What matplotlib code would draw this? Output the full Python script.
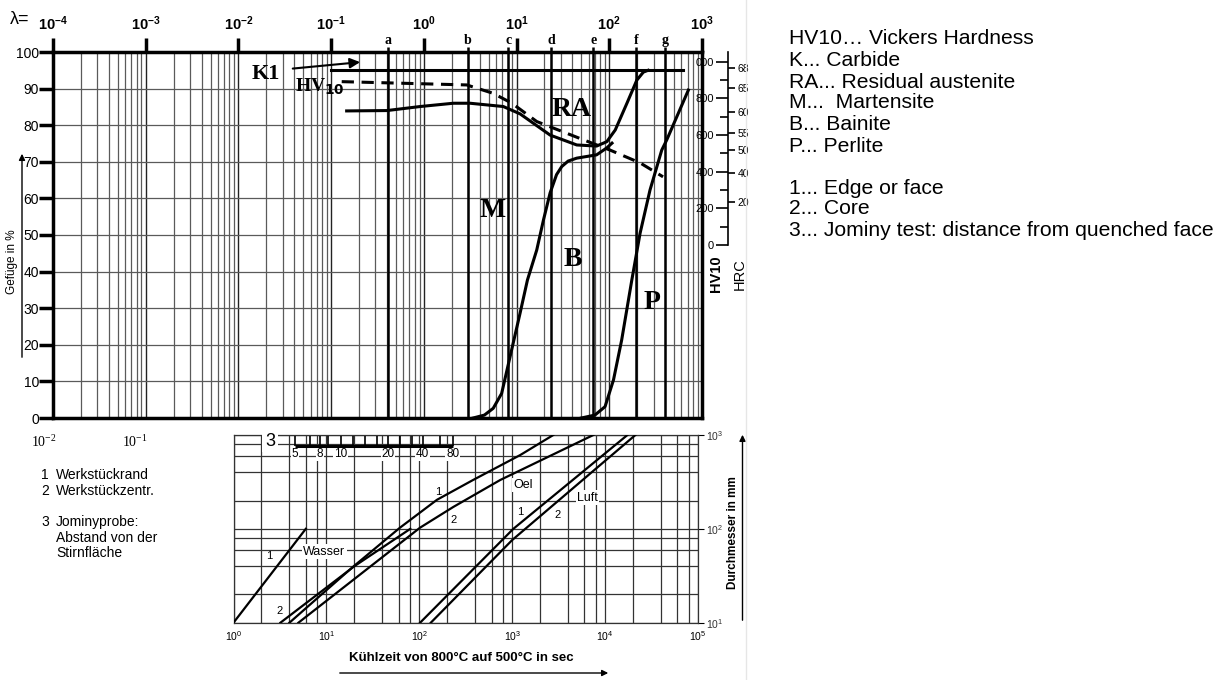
import matplotlib
matplotlib.use('Agg')
import matplotlib.pyplot as plt
from matplotlib.ticker import FixedLocator, NullLocator
from matplotlib.lines import Line2D
from matplotlib.patches import FancyArrowPatch

plt.rcParams['font.family'] = ['Liberation Sans', 'DejaVu Sans']

# ---------------- data: upper chart (lambda, structure %) ----------------
lam_decades = [1e-4, 1e-3, 1e-2, 1e-1, 1e0, 1e1, 1e2, 1e3]
lam_labels = ['-4', '-3', '-2', '-1', '0', '1', '2', '3']
pct_ticks = [0, 10, 20, 30, 40, 50, 60, 70, 80, 90, 100]
letters = ['a', 'b', 'c', 'd', 'e', 'f', 'g']
letter_lam = [0.41, 3.0, 8.1, 23.6, 67, 195, 400]

k1_lam = [0.1, 620]
k1_pct = [95, 95]
hv_lam = [0.13, 2.9, 5.6, 8.9, 16.5, 48, 102, 215, 380]
hv_pct = [91.9, 91.0, 88.7, 86.0, 81.0, 76.4, 73.2, 69.7, 65.9]
ra_lam = [0.147, 0.40, 0.91, 2.08, 3.15, 7.2, 10.9, 23, 44.6, 73, 94, 116, 155, 198, 233, 262]
ra_pct = [83.9, 84.0, 85.1, 86.0, 86.0, 85.1, 83.1, 77.3, 74.6, 74.3, 75.5, 78.7, 86.0, 92.3, 94.5, 95]
b_lam = [3.4, 4.5, 5.6, 6.9, 8.5, 10.9, 13.1, 16.5, 19.5, 23, 27, 30.7, 36, 44.6, 73, 94, 107]
b_pct = [0, 0.8, 2.65, 6.7, 16.7, 28.6, 37.7, 45.9, 54.1, 61.5, 66.5, 68.7, 70.2, 71.0, 71.9, 73.8, 75.1]
p_lam = [50, 70, 90, 111, 136, 175, 215, 275, 368, 417, 713]
p_pct = [0, 0.8, 3.1, 10.4, 21.3, 37.7, 50.5, 62.3, 73.2, 76.0, 89.6]

# hardness scales (HV10 values, HRC values with their HV equivalents)
hv_ticks = [0, 200, 400, 600, 800, 1000]
hv_labels = ['0', '200', '400', '600', '800', '000']
hrc_labels = [68, 65, 60, 55, 50, 40, 20]
hrc_hv = [966, 857, 726, 611, 519, 393, 235]

# ---------------- data: lower chart (cooling time s, diameter mm) ----------------
w1_t = [1, 6]
w1_d = [10, 100]
w2_t = [3.2, 20, 80]
w2_d = [10, 40, 100]
o1_t = [4.0, 19.4, 62, 155, 380, 1222, 2770]
o1_d = [10, 39.5, 103, 204, 332, 612, 1000]
o2_t = [5.0, 102, 232, 745, 7480]
o2_d = [10, 103, 171, 332, 1000]
l1_t = [102, 1028, 17400]
l1_d = [10, 100, 1000]
l2_t = [133, 1000, 21200]
l2_d = [10, 76, 1000]
jom_mm = ['5', '8', '10', '20', '40', '80']
jom_t = [4.6, 8.5, 14.3, 46, 108, 229]
jom_tick_t = [4.6, 6.7, 8.55, 10.4, 14.4, 19.4, 26, 35, 46, 62, 83, 109, 166, 229]

legend_lines = ['HV10\u2026 Vickers Hardness', 'K... Carbide', 'RA... Residual austenite',
                'M...  Martensite', 'B... Bainite', 'P... Perlite', '',
                '1... Edge or face', '2... Core', '3... Jominy test: distance from quenched face']

W, H = 1221, 680
fig = plt.figure(figsize=(W / 100, H / 100), dpi=100)


def fx(px):
    return px / W


def fy(py):
    return 1 - py / H


# ---------------- upper chart ----------------
ax = fig.add_axes([fx(53), fy(418), fx(702 - 53), fy(52) - fy(418)])
ax.set_xscale('log')
ax.set_xlim(1e-4, 1e3)
ax.set_ylim(0, 100)
minor = [m * d for d in lam_decades[:-1] for m in range(2, 10)]
for v in minor:
    ax.axvline(v, color='#5a5a5a', lw=0.9, zorder=1)
for v in lam_decades:
    ax.axvline(v, color='#222222', lw=1.0, zorder=1)
for v in pct_ticks:
    ax.axhline(v, color='#5a5a5a', lw=0.9, zorder=1)
ax.vlines(letter_lam, 0, 101.5, color='black', lw=1.8, zorder=2, clip_on=False)
for l, x in zip(letters, letter_lam):
    ax.text(x, 101.4, l, ha='center', va='bottom', fontsize=10, fontweight='bold',
            family='Liberation Serif')
ax.xaxis.set_major_locator(FixedLocator(lam_decades))
ax.xaxis.set_minor_locator(NullLocator())
ax.xaxis.tick_top()
ax.set_xticklabels([r'$\mathregular{10^{%s}}$' % s for s in lam_labels], fontsize=10.5,
                   fontweight='bold')
ax.tick_params(axis='x', which='major', direction='out', length=10, width=2.5, pad=4)
ax.set_yticks(pct_ticks)
ax.set_yticklabels([str(v) for v in pct_ticks], fontsize=10)
ax.tick_params(axis='y', direction='out', length=10, width=2.5, pad=0)
for s in ax.spines.values():
    s.set_linewidth(2.5)

lw = 2.2
ax.plot(k1_lam, k1_pct, color='black', lw=lw, zorder=4)
ax.plot(hv_lam, hv_pct, color='black', lw=lw, ls=(0, (4, 2.5)), zorder=4)
ax.plot(ra_lam, ra_pct, color='black', lw=lw, zorder=4)
ax.plot(b_lam, b_pct, color='black', lw=lw, zorder=4)
ax.plot(p_lam, p_pct, color='black', lw=lw, zorder=4)

serif = dict(family='Liberation Serif', fontweight='bold', color='black', zorder=5)
ax.text(0.0199, 94, 'K1', fontsize=16, ha='center', va='center', **serif)
ax.annotate('', xy=(0.22, 97.3), xytext=(0.036, 95.4),
            arrowprops=dict(arrowstyle='-|>', color='black', lw=1.5, mutation_scale=15))
ax.text(0.0755, 90.6, r'HV$_{\mathbf{10}}$', fontsize=14, ha='center', va='center', **serif)
ax.text(39.4, 84.4, 'RA', fontsize=20, ha='center', va='center', **serif)
ax.text(5.5, 56.6, 'M', fontsize=20, ha='center', va='center', **serif)
ax.text(40.6, 43.4, 'B', fontsize=20, ha='center', va='center', **serif)
ax.text(286, 31.6, 'P', fontsize=20, ha='center', va='center', **serif)

fig.text(fx(20), fy(20), '\u03bb=', fontsize=13, ha='center', va='center')
fig.text(fx(12), fy(262), 'Gef\u00fcge in %', fontsize=8.5, rotation=90, ha='center', va='center')
fig.patches.append(FancyArrowPatch((fx(22), fy(360)), (fx(22), fy(151)), arrowstyle='-|>',
                   mutation_scale=9, lw=1, color='black', transform=fig.transFigure))

# hardness scales
axh = fig.add_axes([fx(728), fy(418), 0.0001, fy(52) - fy(418)])
axh.set_ylim(-946, 1054)
for s in ['top', 'bottom', 'right']:
    axh.spines[s].set_visible(False)
axh.spines['left'].set_bounds(0, 1054)
axh.spines['left'].set_linewidth(1.2)
axh.set_xticks([])
axh.set_yticks(hv_ticks)
axh.set_yticklabels(hv_labels, fontsize=8)
axh.yaxis.set_minor_locator(FixedLocator([100, 300, 500, 700, 900]))
axh.tick_params(axis='y', which='major', direction='out', length=9, width=1.2, pad=1)
axh.tick_params(axis='y', which='minor', direction='out', length=6, width=1.2)
axh.patch.set_visible(False)

axr = fig.add_axes([fx(728), fy(418), 0.0001, fy(52) - fy(418)])
axr.set_ylim(-946, 1054)
for s in axr.spines.values():
    s.set_visible(False)
axr.set_xticks([])
axr.yaxis.tick_right()
axr.set_yticks(hrc_hv)
axr.set_yticklabels([str(v) for v in hrc_labels], fontsize=7.5)
axr.tick_params(axis='y', direction='out', length=5, width=1.2, pad=2)
axr.patch.set_visible(False)

fig.text(fx(716), fy(274), 'HV10', fontsize=10.5, fontweight='bold', rotation=90, ha='center', va='center')
fig.text(fx(740), fy(274), 'HRC', fontsize=10.5, rotation=90, ha='center', va='center')

# ---------------- lower chart ----------------
bx = fig.add_axes([fx(233.5), fy(622.7), fx(698 - 233.5), fy(435) - fy(622.7)])
bx.set_xscale('log')
bx.set_yscale('log')
bx.set_xlim(1, 1e5)
bx.set_ylim(10, 1000)
gx = [m * 10 ** e for e in range(0, 5) for m in (1, 2, 4, 6, 8)] + [1e5]
gy = [m * 10 ** e for e in range(1, 3) for m in (1, 2, 4, 6, 8)] + [1000]
for v in gx:
    bx.axvline(v, color='#333333', lw=0.9, zorder=1)
for v in gy:
    bx.axhline(v, color='#333333', lw=0.9, zorder=1)
for s in bx.spines.values():
    s.set_linewidth(0.9)
    s.set_color('#333333')
bx.xaxis.set_major_locator(FixedLocator([1, 10, 100, 1000, 1e4, 1e5]))
bx.xaxis.set_minor_locator(NullLocator())
bx.set_xticklabels([r'$\mathregular{10^{%d}}$' % i for i in range(6)], fontsize=7.5)
bx.tick_params(axis='x', length=0, pad=5)
bx.yaxis.tick_right()
bx.yaxis.set_major_locator(FixedLocator([10, 100, 1000]))
bx.yaxis.set_minor_locator(NullLocator())
bx.set_yticklabels([r'$\mathregular{10^{%d}}$' % i for i in (1, 2, 3)], fontsize=7.5, color='#333333')
bx.tick_params(axis='y', length=4, pad=2)

blw = 1.6
for t, d in [(w1_t, w1_d), (w2_t, w2_d), (o1_t, o1_d), (o2_t, o2_d), (l1_t, l1_d), (l2_t, l2_d)]:
    bx.plot(t, d, color='black', lw=blw, zorder=3)

wb = dict(facecolor='white', edgecolor='none', pad=1)
bx.text(9.44, 57, 'Wasser', fontsize=9, ha='center', va='center', bbox=wb, zorder=4)
bx.text(1318, 294, 'Oel', fontsize=9, ha='center', va='center', bbox=wb, zorder=4)
bx.text(6450, 214, 'Luft', fontsize=9, ha='center', va='center', bbox=wb, zorder=4)
for x, y, s in [(2.41, 51, '1'), (3.17, 13.2, '2'), (160, 248, '1'), (232, 125, '2'),
                (1222, 152, '1'), (3063, 141, '2')]:
    bx.text(x, y, s, fontsize=8, ha='center', va='center', zorder=4)

# Jominy scale
bx.text(2.47, 863, '3', fontsize=13, ha='center', va='center',
        bbox=dict(facecolor='white', edgecolor='none', pad=2), zorder=4)
bx.plot([jom_tick_t[0], jom_tick_t[-1]], [764, 764], color='black', lw=2.2, zorder=5,
        solid_capstyle='butt')
bx.vlines(jom_tick_t, 764, 975, color='black', lw=1.2, zorder=5)
for t, s in zip(jom_t, jom_mm):
    bx.text(t, 620, s, fontsize=8.5, ha='center', va='center',
            bbox=dict(facecolor='white', edgecolor='none', pad=0.5), zorder=4)

fig.text(fx(461), fy(658), 'K\u00fchlzeit von 800\u00b0C auf 500\u00b0C in sec', fontsize=9.5,
         fontweight='bold', ha='center', va='center')
fig.patches.append(FancyArrowPatch((fx(337), fy(673)), (fx(611), fy(673)),
                   arrowstyle='-|>', mutation_scale=9, lw=1, color='black', transform=fig.transFigure))
fig.text(fx(733), fy(533), 'Durchmesser in mm', fontsize=8.5, fontweight='bold', rotation=90,
         ha='center', va='center')
fig.patches.append(FancyArrowPatch((fx(742.5), fy(623)), (fx(742.5), fy(432)),
                   arrowstyle='-|>', mutation_scale=9, lw=1, color='black', transform=fig.transFigure))

# left notes
fig.text(fx(44), fy(442), r'$\mathregular{10^{-2}}$', fontsize=10, ha='center', va='center',
         family='Liberation Serif')
fig.text(fx(135), fy(442), r'$\mathregular{10^{-1}}$', fontsize=10, ha='center', va='center',
         family='Liberation Serif')
for y, num, s in [(475, '1', 'Werkst\u00fcckrand'), (491, '2', 'Werkst\u00fcckzentr.'),
                  (522, '3', 'Jominyprobe:'), (538, '', 'Abstand von der'), (553, '', 'Stirnfl\u00e4che')]:
    if num:
        fig.text(fx(41), fy(y), num, fontsize=10, va='center')
    fig.text(fx(56), fy(y), s, fontsize=10, va='center')

# separator and legend text
fig.add_artist(Line2D([fx(746), fx(746)], [0, 1], color='#e6e6e6', lw=1))
ys = [39, 60, 82, 103, 125, 146, 168, 189, 209, 231]
for y, s in zip(ys, legend_lines):
    if s:
        fig.text(fx(789), fy(y), s, fontsize=15.2, ha='left', va='center')

fig.savefig('out.png', dpi=100)
